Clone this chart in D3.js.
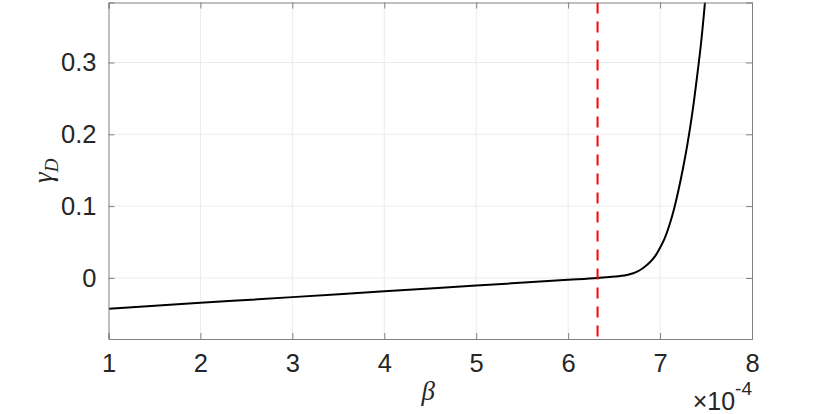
<!DOCTYPE html>
<html>
<head>
<meta charset="utf-8">
<script src="https://cdn.jsdelivr.net/npm/d3@7"></script>
<style>
  body { margin: 0; background: #fff; }
  svg { display: block; }
</style>
</head>
<body>
<div id="chart"></div>
<script>
// data (beta in units of 1e-4)
const betaValues = [1, 2, 3, 4, 5, 6, 6.32, 6.45, 6.55, 6.65, 6.70, 6.75, 6.80, 6.85, 6.90, 6.95, 7.00, 7.05, 7.10, 7.15, 7.20, 7.25, 7.30, 7.35, 7.40, 7.45, 7.50];
const gammaValues = [-0.0428, -0.0347, -0.0267, -0.0186, -0.0106, -0.0026, 0.0000, 0.0013, 0.0025, 0.0045, 0.0062, 0.0088, 0.0125, 0.0172, 0.0232, 0.031, 0.042, 0.055, 0.073, 0.095, 0.122, 0.153, 0.188, 0.229, 0.278, 0.332, 0.40];
const betaThreshold = 6.32;
const xTicks = [1, 2, 3, 4, 5, 6, 7, 8];
const yTicks = [0, 0.1, 0.2, 0.3];

const width = 830, height = 414;
const margin = { top: 2.5, right: 78, bottom: 75, left: 108.5 };
const innerW = width - margin.left - margin.right;
const innerH = height - margin.top - margin.bottom;

const svg = d3.select("#chart").append("svg")
    .attr("width", width)
    .attr("height", height);

const x = d3.scaleLinear().domain([1, 8]).range([0, innerW]);
const y = d3.scaleLinear().domain([-0.085, 0.3835]).range([innerH, 0]);

const g = svg.append("g")
    .attr("transform", `translate(${margin.left},${margin.top})`);

svg.append("defs").append("clipPath").attr("id", "clip")
    .append("rect").attr("width", innerW).attr("height", innerH);

// grid
g.selectAll(".gx").data(xTicks.slice(1, -1)).enter().append("line")
    .attr("x1", d => x(d)).attr("x2", d => x(d))
    .attr("y1", 0).attr("y2", innerH)
    .attr("stroke", "#ebebeb").attr("stroke-width", 1);
g.selectAll(".gy").data(yTicks).enter().append("line")
    .attr("x1", 0).attr("x2", innerW)
    .attr("y1", d => y(d)).attr("y2", d => y(d))
    .attr("stroke", "#ebebeb").attr("stroke-width", 1);

// curve
const pts = betaValues.map((b, i) => ({ b: b, v: gammaValues[i] }));
const line = d3.line()
    .x(d => x(d.b))
    .y(d => y(d.v))
    .curve(d3.curveMonotoneX);

g.append("path")
    .datum(pts)
    .attr("clip-path", "url(#clip)")
    .attr("d", line)
    .attr("fill", "none")
    .attr("stroke", "#000")
    .attr("stroke-width", 2);

// threshold
g.append("line")
    .attr("x1", x(betaThreshold)).attr("x2", x(betaThreshold))
    .attr("y1", 0).attr("y2", innerH)
    .attr("stroke", "#ff0000")
    .attr("stroke-width", 2)
    .attr("stroke-dasharray", "11,8");

// axes box + ticks
const axisColor = "#808080";
const tickFont = "'Liberation Sans', Arial, Helvetica, sans-serif";

const xAxis = g.append("g").attr("transform", `translate(0,${innerH})`)
    .call(d3.axisBottom(x).tickValues(xTicks).tickSize(-6).tickPadding(15).tickFormat(d3.format("d")));
const xAxisTop = g.append("g")
    .call(d3.axisTop(x).tickValues(xTicks).tickSize(-6).tickFormat(""));
const yAxis = g.append("g")
    .call(d3.axisLeft(y).tickValues(yTicks).tickSize(-6).tickPadding(12).tickFormat(d => d === 0 ? "0" : d3.format(".1f")(d)));
const yAxisRight = g.append("g").attr("transform", `translate(${innerW},0)`)
    .call(d3.axisRight(y).tickValues(yTicks).tickSize(-6).tickFormat(""));

[xAxis, xAxisTop, yAxis, yAxisRight].forEach(a => {
    a.select(".domain").attr("stroke", axisColor).attr("stroke-width", 1);
    a.selectAll(".tick line").attr("stroke", axisColor);
    a.selectAll("text")
        .attr("fill", "#262626")
        .style("font-family", tickFont)
        .style("font-size", "25.5px");
});
xAxis.selectAll("text").attr("dy", "0.71em");

// axis labels
svg.append("text")
    .attr("x", margin.left + x(4.5) - 2)
    .attr("y", 400)
    .attr("text-anchor", "middle")
    .style("font-family", "'Liberation Serif', 'DejaVu Serif', serif")
    .style("font-style", "italic")
    .style("font-size", "27px")
    .attr("fill", "#262626")
    .text("β");

const yl = svg.append("text")
    .attr("transform", `translate(52,${margin.top + innerH / 2}) rotate(-90)`)
    .attr("text-anchor", "middle")
    .style("font-family", "'Liberation Serif', 'DejaVu Serif', serif")
    .style("font-style", "italic")
    .style("font-size", "27px")
    .attr("fill", "#262626");
yl.append("tspan").text("γ");
yl.append("tspan").attr("dy", 6).style("font-size", "19px").text("D");

// exponent label
const ex = svg.append("text")
    .attr("x", 752)
    .attr("y", 410)
    .attr("text-anchor", "end")
    .style("font-family", tickFont)
    .style("font-size", "25px")
    .attr("fill", "#262626");
ex.append("tspan").text("×10");
ex.append("tspan").attr("dy", -15).style("font-size", "19px").text("-4");
</script>
</body>
</html>
